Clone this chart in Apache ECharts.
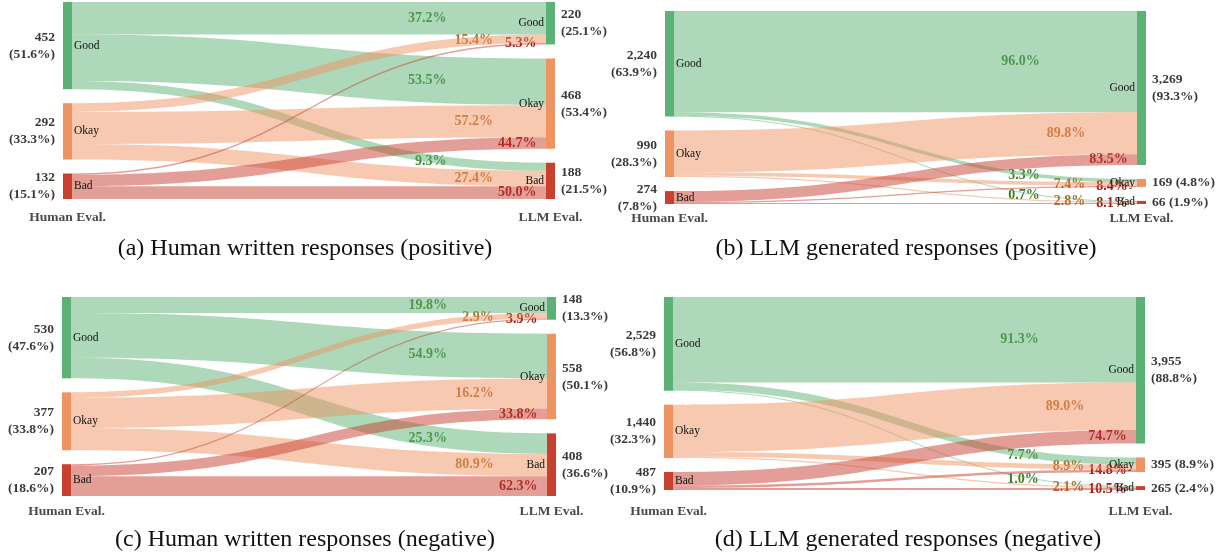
<!DOCTYPE html>
<html>
<head>
<meta charset="utf-8">
<script src="https://cdn.jsdelivr.net/npm/echarts@6/dist/echarts.min.js"></script>
<style>
  html, body { margin: 0; background: #fff; }
  #chart { width: 1222px; height: 556px; }
</style>
</head>
<body>
<div id="chart"></div>
<script>
const levels = ['Good', 'Okay', 'Bad'];

// counts: row = Human Eval. level, column = LLM Eval. level
const flowsA = [[168, 242, 42], [45, 167, 80], [7, 59, 66]];
const flowsB = [[2151, 73, 16], [889, 73, 28], [229, 23, 22]];
const flowsC = [[105, 291, 134], [35, 197, 145], [8, 70, 129]];
const flowsD = [[2309, 195, 25], [1282, 128, 30], [364, 72, 51]];

// percentage printed on each flow
const pctA = [['37.2%', '53.5%', '9.3%'], ['15.4%', '57.2%', '27.4%'], ['5.3%', '44.7%', '50.0%']];
const pctB = [['96.0%', '3.3%', '0.7%'], ['89.8%', '7.4%', '2.8%'], ['83.5%', '8.4%', '8.1%']];
const pctC = [['19.8%', '54.9%', '25.3%'], ['2.9%', '16.2%', '80.9%'], ['3.9%', '33.8%', '62.3%']];
const pctD = [['91.3%', '7.7%', '1.0%'], ['89.0%', '8.9%', '2.1%'], ['74.7%', '14.8%', '10.5%']];

// node totals
const humanA = ['452\n(51.6%)', '292\n(33.3%)', '132\n(15.1%)'];
const llmA = ['220\n(25.1%)', '468\n(53.4%)', '188\n(21.5%)'];
const humanB = ['2,240\n(63.9%)', '990\n(28.3%)', '274\n(7.8%)'];
const llmB = ['3,269\n(93.3%)', '169 (4.8%)', '66 (1.9%)'];
const humanC = ['530\n(47.6%)', '377\n(33.8%)', '207\n(18.6%)'];
const llmC = ['148\n(13.3%)', '558\n(50.1%)', '408\n(36.6%)'];
const humanD = ['2,529\n(56.8%)', '1,440\n(32.3%)', '487\n(10.9%)'];
const llmD = ['3,955\n(88.8%)', '395 (8.9%)', '265 (2.4%)'];

const captions = [
  '(a) Human written responses (positive)',
  '(b) LLM generated responses (positive)',
  '(c) Human written responses (negative)',
  '(d) LLM generated responses (negative)'
];

const serif = '"Liberation Serif", "DejaVu Serif", serif';
const nodeColors = ['#5cb274', '#ee9462', '#c8402f'];
const pctColors = ['#437d29', '#b46b26', '#981818'];
const labelFrac = [0.79, 0.888, 0.98]; // where along the flow the % sits, by source

const panels = [
  { flows: flowsA, pct: pctA, human: humanA, llm: llmA, box: { left: 63, top: 2, width: 492, height: 197 }, capX: 305, capY: 249, axisY: 218 },
  { flows: flowsB, pct: pctB, human: humanB, llm: llmB, box: { left: 665, top: 11, width: 481, height: 193 }, capX: 906, capY: 249, axisY: 219 },
  { flows: flowsC, pct: pctC, human: humanC, llm: llmC, box: { left: 62, top: 297, width: 494, height: 199 }, capX: 305, capY: 540, axisY: 512 },
  { flows: flowsD, pct: pctD, human: humanD, llm: llmD, box: { left: 664, top: 297, width: 481, height: 193 }, capX: 908, capY: 540, axisY: 512 }
];

function makeSeries(p, overlay) {
  const nodes = [];
  levels.forEach((lv, i) => {
    nodes.push({
      name: 'h' + lv,
      itemStyle: { color: nodeColors[i] },
      label: overlay
        ? { position: 'left', distance: 8, formatter: p.human[i] }
        : { position: 'right', distance: 2, formatter: lv }
    });
  });
  levels.forEach((lv, i) => {
    nodes.push({
      name: 'l' + lv,
      itemStyle: { color: nodeColors[i] },
      label: overlay
        ? { position: 'right', distance: 6, formatter: p.llm[i] }
        : { position: 'left', distance: 2, formatter: lv }
    });
  });
  const links = [];
  p.flows.forEach((row, s) => {
    row.forEach((v, t) => {
      links.push({ source: 'h' + levels[s], target: 'l' + levels[t], value: v });
    });
  });
  return {
    type: 'sankey',
    left: p.box.left,
    top: p.box.top,
    width: p.box.width,
    height: p.box.height,
    nodeWidth: 9,
    nodeGap: 14,
    layoutIterations: 0,
    draggable: false,
    silent: true,
    emphasis: { disabled: true },
    data: nodes,
    links: links,
    itemStyle: { borderWidth: 0, opacity: overlay ? 0 : 1 },
    lineStyle: { color: 'source', opacity: overlay ? 0 : 0.5, curveness: 0.5 },
    label: overlay
      ? { fontFamily: serif, fontSize: 13.5, fontWeight: 'bold', color: '#3a3a3a', lineHeight: 17 }
      : { fontFamily: serif, fontSize: 11.5, color: '#111' }
  };
}

const series = [];
panels.forEach(p => {
  series.push(makeSeries(p, false));
  series.push(makeSeries(p, true));
});

const chart = echarts.init(document.getElementById('chart'));
chart.setOption({
  animation: false,
  backgroundColor: '#fff',
  series: series
});

// percentage labels sit on each flow curve, read from the sankey layout
function bez(a, b, c, d, t) {
  const u = 1 - t;
  return u * u * u * a + 3 * u * u * t * b + 3 * u * t * t * c + t * t * t * d;
}

const graphics = [];
panels.forEach((p, k) => {
  const model = chart.getModel().getSeriesByIndex(k * 2);
  const info = model.layoutInfo;
  const graph = model.getGraph();
  graph.edges.forEach(edge => {
    const s = edge.node1.dataIndex;
    const t = edge.node2.dataIndex - 3;
    const n1 = edge.node1.getLayout();
    const n2 = edge.node2.getLayout();
    const e = edge.getLayout();
    const x1 = n1.x + n1.dx;
    const x2 = n2.x;
    const cx = (x1 + x2) / 2;
    const y1 = n1.y + e.sy + e.dy / 2;
    const y2 = n2.y + e.ty + e.dy / 2;
    const lx = x1 + (x2 - x1) * labelFrac[s];
    let lo = 0, hi = 1;
    for (let i = 0; i < 40; i++) {
      const mid = (lo + hi) / 2;
      if (bez(x1, cx, cx, x2, mid) < lx) lo = mid; else hi = mid;
    }
    const ly = bez(y1, y1, y2, y2, lo);
    graphics.push({
      type: 'text',
      silent: true,
      x: info.x + lx,
      y: info.y + ly,
      style: {
        text: p.pct[s][t],
        font: 'bold 14px ' + serif,
        fill: pctColors[s],
        align: 'right', verticalAlign: 'middle',
        textAlign: 'right', textVerticalAlign: 'middle'
      }
    });
  });
  const src = graph.getNodeByIndex(0).getLayout();
  const dst = graph.getNodeByIndex(3).getLayout();
  [['Human Eval.', src], ['LLM Eval.', dst]].forEach(([txt, n]) => {
    graphics.push({
      type: 'text',
      silent: true,
      x: info.x + n.x + n.dx / 2,
      y: p.axisY,
      style: {
        text: txt,
        font: 'bold 13.5px ' + serif,
        fill: '#4a4a4a',
        align: 'center', verticalAlign: 'middle',
        textAlign: 'center', textVerticalAlign: 'middle'
      }
    });
  });
  graphics.push({
    type: 'text',
    silent: true,
    x: p.capX,
    y: p.capY,
    style: {
      text: captions[k],
      font: '24px ' + serif,
      fill: '#111',
      align: 'center', verticalAlign: 'middle',
      textAlign: 'center', textVerticalAlign: 'middle'
    }
  });
});

chart.setOption({ graphic: graphics });
</script>
</body>
</html>
